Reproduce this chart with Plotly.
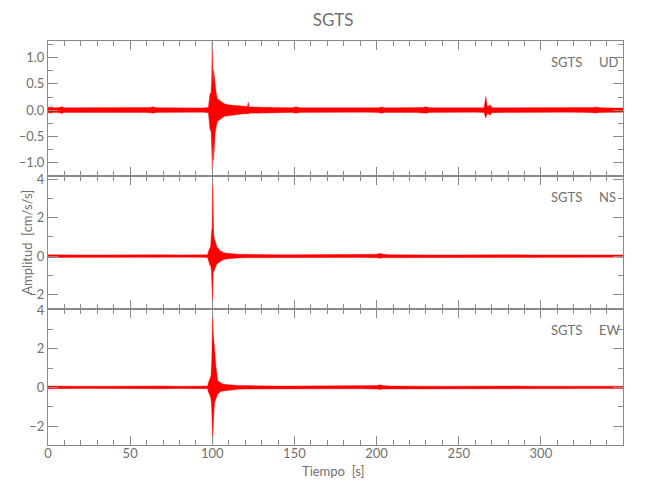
import plotly.graph_objects as go

# ---- data: envelopes (upper / lower) of the three components ----
t_ud = [
    0, 1, 1.5, 2, 2.5, 3, 6, 9, 9.5, 10,
    16, 27, 37, 47, 58, 62, 64, 66, 73.5, 84,
    94, 97.6, 98.2, 98.7, 99.2, 99.6, 100.0, 100.4, 100.8, 101.3,
    101.7, 102.1, 102.5, 103.1, 103.8, 104.9, 105.9, 107.5, 109.6, 112.7,
    115.8, 119, 121.4, 121.9, 122.4, 130.4, 140.8, 149, 151, 153.2,
    161.5, 172, 182.3, 192.7, 201, 203.1, 205.2, 213.5, 224, 228,
    230.1, 232.2, 239.5, 249.9, 260.2, 265.4, 266.5, 267.5, 269.1, 270.1,
    271.7, 275.8, 286.2, 296.6, 307, 317.4, 327.8, 332, 334, 336,
    343.3, 350]
up_ud = [
    0.06, 0.045, 0.045, 0.07, 0.045, 0.045, 0.045, 0.065, 0.045, 0.045,
    0.045, 0.04, 0.045, 0.045, 0.045, 0.05, 0.065, 0.045, 0.045, 0.04,
    0.04, 0.05, 0.25, 0.33, 0.3, 0.6, 1.32, 0.5, 0.77, 0.6,
    0.42, 0.38, 0.3, 0.22, 0.2, 0.18, 0.15, 0.12, 0.1, 0.09,
    0.08, 0.07, 0.07, 0.15, 0.06, 0.055, 0.05, 0.045, 0.065, 0.045,
    0.045, 0.045, 0.04, 0.04, 0.045, 0.06, 0.045, 0.045, 0.045, 0.05,
    0.065, 0.045, 0.045, 0.04, 0.04, 0.045, 0.26, 0.06, 0.1, 0.05,
    0.045, 0.045, 0.04, 0.04, 0.04, 0.04, 0.045, 0.05, 0.06, 0.045,
    0.04, 0.04]
lo_ud = [
    -0.055, -0.045, -0.045, -0.06, -0.045, -0.045, -0.045, -0.065, -0.045, -0.045,
    -0.045, -0.04, -0.045, -0.045, -0.045, -0.05, -0.06, -0.045, -0.045, -0.04,
    -0.04, -0.05, -0.25, -0.4, -0.35, -0.7, -1.15, -0.6, -0.96, -0.7,
    -0.45, -0.38, -0.3, -0.22, -0.2, -0.18, -0.15, -0.12, -0.1, -0.09,
    -0.08, -0.07, -0.07, -0.08, -0.06, -0.055, -0.05, -0.045, -0.06, -0.045,
    -0.045, -0.045, -0.04, -0.04, -0.045, -0.06, -0.045, -0.045, -0.045, -0.05,
    -0.06, -0.045, -0.045, -0.04, -0.04, -0.045, -0.15, -0.06, -0.1, -0.05,
    -0.045, -0.045, -0.04, -0.04, -0.04, -0.04, -0.045, -0.05, -0.055, -0.045,
    -0.04, -0.04]

t_ns = [
    0, 5, 10, 20, 30, 40, 50, 60, 70, 80,
    90, 97.1, 97.9, 98.4, 99.0, 99.5, 99.9, 100.2, 100.5, 100.9,
    101.3, 101.8, 102.3, 102.9, 103.7, 104.4, 105.4, 106.4, 108.5, 110.6,
    112.7, 115.8, 120, 125, 130, 140, 150, 160, 170, 180,
    190, 200, 202, 204, 208, 215, 225, 235, 245, 255,
    265, 275, 285, 295, 305, 315, 325, 335, 350]
up_ns = [
    0.07, 0.06, 0.07, 0.06, 0.06, 0.07, 0.06, 0.06, 0.07, 0.06,
    0.06, 0.07, 0.3, 0.4, 0.5, 1.2, 1.5, 4.2, 1.4, 1.1,
    0.9, 0.73, 0.6, 0.45, 0.4, 0.3, 0.25, 0.2, 0.15, 0.13,
    0.12, 0.1, 0.09, 0.08, 0.07, 0.07, 0.07, 0.07, 0.06, 0.07,
    0.07, 0.09, 0.14, 0.09, 0.07, 0.06, 0.07, 0.06, 0.06, 0.07,
    0.06, 0.06, 0.07, 0.06, 0.06, 0.07, 0.06, 0.06, 0.06]
lo_ns = [
    -0.07, -0.06, -0.07, -0.06, -0.06, -0.07, -0.06, -0.06, -0.07, -0.06,
    -0.06, -0.07, -0.3, -0.45, -0.5, -0.8, -1.06, -2.6, -0.9, -0.8,
    -0.65, -0.6, -0.5, -0.4, -0.35, -0.3, -0.25, -0.2, -0.15, -0.13,
    -0.12, -0.1, -0.09, -0.08, -0.07, -0.07, -0.07, -0.07, -0.06, -0.07,
    -0.07, -0.09, -0.11, -0.09, -0.07, -0.06, -0.07, -0.06, -0.06, -0.07,
    -0.06, -0.06, -0.07, -0.06, -0.06, -0.07, -0.06, -0.06, -0.06]

t_ew = [
    0, 5, 10, 20, 30, 40, 50, 60, 70, 80,
    90, 97.1, 97.9, 98.5, 99.2, 99.7, 100.2, 100.6, 101.0, 101.4,
    101.9, 102.3, 102.8, 103.3, 104.0, 104.7, 105.4, 106.4, 108.5, 110.6,
    112.7, 115.8, 120, 125, 130, 140, 150, 160, 170, 180,
    190, 200, 202, 204, 208, 215, 225, 235, 245, 255,
    265, 275, 285, 295, 305, 315, 325, 335, 350]
up_ew = [
    0.07, 0.06, 0.07, 0.06, 0.06, 0.07, 0.06, 0.06, 0.07, 0.06,
    0.06, 0.07, 0.3, 0.4, 0.6, 1.5, 3.9, 2.8, 2.2, 1.76,
    1.44, 1.0, 0.56, 0.35, 0.3, 0.25, 0.2, 0.17, 0.15, 0.13,
    0.12, 0.1, 0.09, 0.08, 0.07, 0.07, 0.07, 0.07, 0.06, 0.07,
    0.07, 0.09, 0.13, 0.09, 0.07, 0.06, 0.07, 0.06, 0.06, 0.07,
    0.06, 0.06, 0.07, 0.06, 0.06, 0.07, 0.06, 0.06, 0.06]
lo_ew = [
    -0.07, -0.06, -0.07, -0.06, -0.06, -0.07, -0.06, -0.06, -0.07, -0.06,
    -0.06, -0.07, -0.3, -0.4, -0.6, -1.2, -2.86, -2.15, -1.3, -0.8,
    -0.7, -0.6, -0.46, -0.35, -0.3, -0.25, -0.2, -0.17, -0.15, -0.13,
    -0.12, -0.1, -0.09, -0.08, -0.07, -0.07, -0.07, -0.07, -0.06, -0.07,
    -0.07, -0.09, -0.11, -0.09, -0.07, -0.06, -0.07, -0.06, -0.06, -0.07,
    -0.06, -0.06, -0.07, -0.06, -0.06, -0.07, -0.06, -0.06, -0.06]

station = "SGTS"
components = ["UD", "NS", "EW"]
x_ticks = [0, 50, 100, 150, 200, 250, 300]

FONT = "Lato, sans-serif"
GREY = "#707070"
AX = "#8a8a8a"

fig = go.Figure()
series = [(t_ud, up_ud, lo_ud, "x3", "y3"),
          (t_ns, up_ns, lo_ns, "x2", "y2"),
          (t_ew, up_ew, lo_ew, "x", "y")]
for t, up, lo, xa, ya in series:
    fig.add_trace(go.Scatter(
        x=list(t) + list(t)[::-1], y=list(up) + list(lo)[::-1],
        mode="lines", fill="toself", fillcolor="#ff0000",
        line=dict(color="#ff0000", width=0.4),
        xaxis=xa, yaxis=ya, showlegend=False, hoverinfo="skip"))

xcommon = dict(range=[0, 350], showline=True, linecolor=AX, linewidth=1, mirror="ticks",
               ticks="inside", ticklen=9, tickcolor=AX, tickvals=x_ticks,
               minor=dict(dtick=10, ticks="inside", ticklen=5, tickcolor=AX),
               showgrid=False, zeroline=False, automargin=False,
               tickfont=dict(family=FONT, size=13, color=GREY), ticklabelstandoff=-4)
ycommon = dict(showline=True, linecolor=AX, linewidth=1, mirror="ticks",
               ticks="inside", ticklen=10, tickcolor=AX, showgrid=False, zeroline=False,
               automargin=False,
               tickfont=dict(family=FONT, size=13, color=GREY), ticklabelstandoff=0)

d1, d2 = 0.3366, 0.6658
fig.update_layout(
    width=642, height=492, plot_bgcolor="white", paper_bgcolor="white",
    margin=dict(l=40, r=27, t=33, b=55),
    xaxis=dict(xcommon, anchor="y", showticklabels=True),
    xaxis2=dict(xcommon, anchor="y2", matches="x", showticklabels=False),
    xaxis3=dict(xcommon, anchor="y3", matches="x", showticklabels=False),
    yaxis=dict(ycommon, domain=[0, d1], range=[-2.98, 4.05], dtick=2,
               minor=dict(dtick=1, ticks="inside", ticklen=5, tickcolor=AX)),
    yaxis2=dict(ycommon, domain=[d1, d2], range=[-2.76, 4.17], dtick=2,
                minor=dict(dtick=1, ticks="inside", ticklen=5, tickcolor=AX)),
    yaxis3=dict(ycommon, domain=[d2, 1], range=[-1.26, 1.32], dtick=0.5, tickformat=".1f",
                minor=dict(dtick=0.25, ticks="inside", ticklen=5, tickcolor=AX)),
    title=dict(text=station, x=0.496, xref="paper", xanchor="center",
               y=0.9756, yref="container", yanchor="middle",
               font=dict(family=FONT, size=17, color=GREY)),
)

ann = [
    dict(text="Tiempo\u00a0\u00a0[s]", x=0.496, y=-0.064, xanchor="center", yanchor="middle"),
    dict(text="Amplitud\u00a0\u00a0[cm/s/s]", x=-0.038, y=(d1 + d2) / 2, xanchor="center",
         yanchor="middle", textangle=-90),
]
for comp, yy in zip(components, [0.949, 0.614, 0.285]):
    ann.append(dict(text=station, x=0.932, y=yy, xanchor="right", yanchor="middle"))
    ann.append(dict(text=comp, x=0.955, y=yy, xanchor="left", yanchor="middle"))
for a in ann:
    a.update(xref="paper", yref="paper", showarrow=False,
             font=dict(family=FONT, size=13, color=GREY))
fig.update_layout(annotations=ann)

fig.write_html("out.html")
